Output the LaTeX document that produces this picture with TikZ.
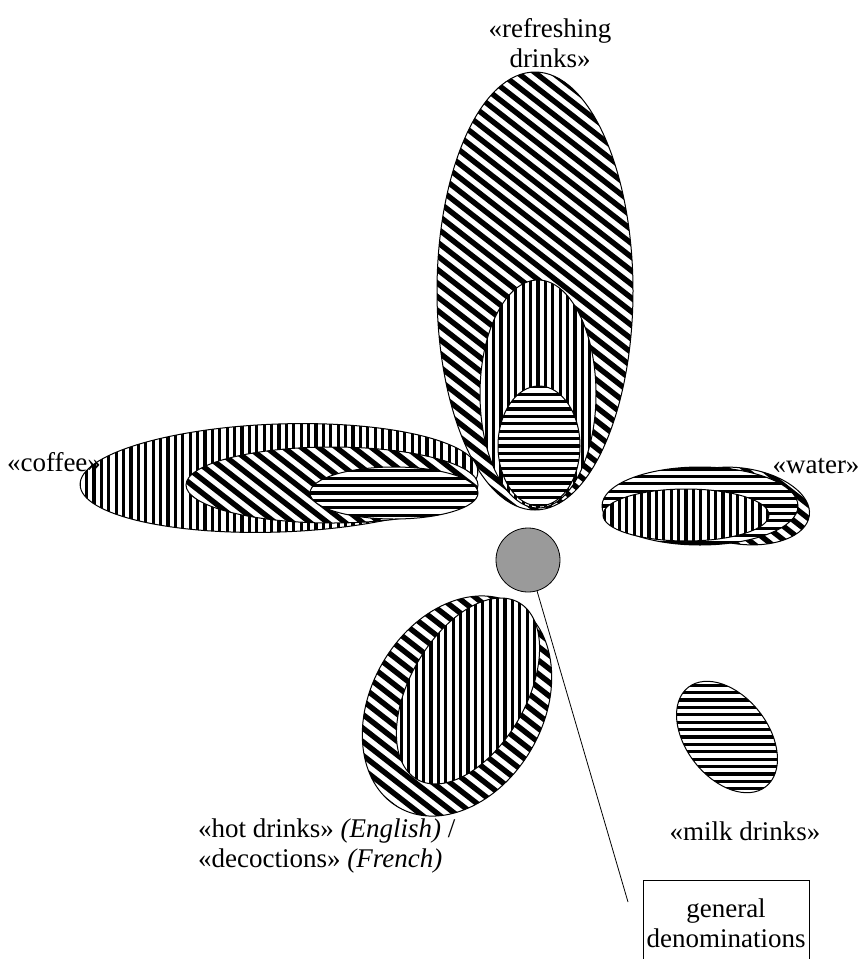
\documentclass[tikz,border=0pt]{standalone}
\usepackage{fontspec}
\setmainfont{Liberation Serif}
\definecolor{coreGray}{HTML}{9A9A9A}
\newcommand{\hatchdiag}[3]{%
  \foreach \i in {-#3,...,#3}
    \draw[line width=5.4pt] ({#1+(\i)*17.5-300},{#2-234}) -- ++(600,468);}
\newcommand{\hatchvert}[3]{%
  \foreach \i in {-#3,...,#3}
    \draw[line width=3.2pt] ({#1+(\i)*7.4},{#2-240}) -- ++(0,480);}
\newcommand{\hatchhorz}[3]{%
  \foreach \i in {-#3,...,#3}
    \draw[line width=3.2pt] ({#1-220},{#2+(\i)*7.4}) -- ++(440,0);}
\newcommand{\petal}[2]{%
  \begin{scope}
    \clip #1;
    \fill[white] #1;
    #2
  \end{scope}
  \draw[line width=1pt] #1;}
\begin{document}
\begin{tikzpicture}[x=1pt, y=-1pt,
  lbl/.style={font=\fontsize{27}{30}\selectfont, inner sep=0pt}]
\useasboundingbox (0,0) rectangle (861,959);
\petal{(535,291) ellipse [x radius=98pt, y radius=219pt]}{\hatchdiag{535}{291}{22}}
\petal{(538,394) ellipse [x radius=58pt, y radius=114pt]}{\hatchvert{538}{394}{10}}
\petal{(539,446) ellipse [x radius=41pt, y radius=60pt]}{\hatchhorz{539}{446}{10}}
\petal{(279,478) ellipse [x radius=199pt, y radius=54pt, rotate=2]}{\hatchvert{279}{478}{29}}
\petal{(332,485) ellipse [x radius=146pt, y radius=38pt]}{\hatchdiag{332}{485}{14}}
\petal{(394,493) ellipse [x radius=84pt, y radius=26pt]}{\hatchhorz{394}{493}{5}}
\petal{(740,506) ellipse [x radius=70pt, y radius=38pt, rotate=-8]}{\hatchdiag{740}{506}{8}}
\petal{(700,506) ellipse [x radius=98pt, y radius=39pt]}{\hatchhorz{700}{506}{7}}
\petal{(686,515) ellipse [x radius=83pt, y radius=26pt]}{\hatchvert{686}{515}{12}}
\petal{(457,706) ellipse [x radius=117pt, y radius=86pt, rotate=60]}{\hatchdiag{457}{706}{14}}
\petal{(468,691) ellipse [x radius=102pt, y radius=58pt, rotate=60]}{\hatchvert{468}{691}{11}}
\petal{(727,737) ellipse [x radius=63pt, y radius=41pt, rotate=-52]}{\hatchhorz{727}{737}{9}}
\node[circle, draw, fill=coreGray, minimum size=64pt, inner sep=0pt, line width=0.8pt] (core) at (528,560) {};
\coordinate (tail) at (628,902);
\draw[line width=0.8pt] (core) -- (tail);
\node[lbl, align=center] (refresh) at (550,43) {«refreshing\\drinks»};
\node[lbl] (coffee) at (54,462) {«coffee»};
\node[lbl] (water) at (816,466) {«water»};
\node[lbl] (milk) at (745,831) {«milk drinks»};
\node[lbl, align=left, anchor=west] (hot) at (198,846) {«hot drinks» \textit{(English)} /\\«decoctions» \textit{(French)}};
\node[lbl, draw, line width=0.8pt, align=center, anchor=north, minimum width=166pt, minimum height=86pt] (gen) at (726,880) {general\\denominations};
\end{tikzpicture}
\end{document}
